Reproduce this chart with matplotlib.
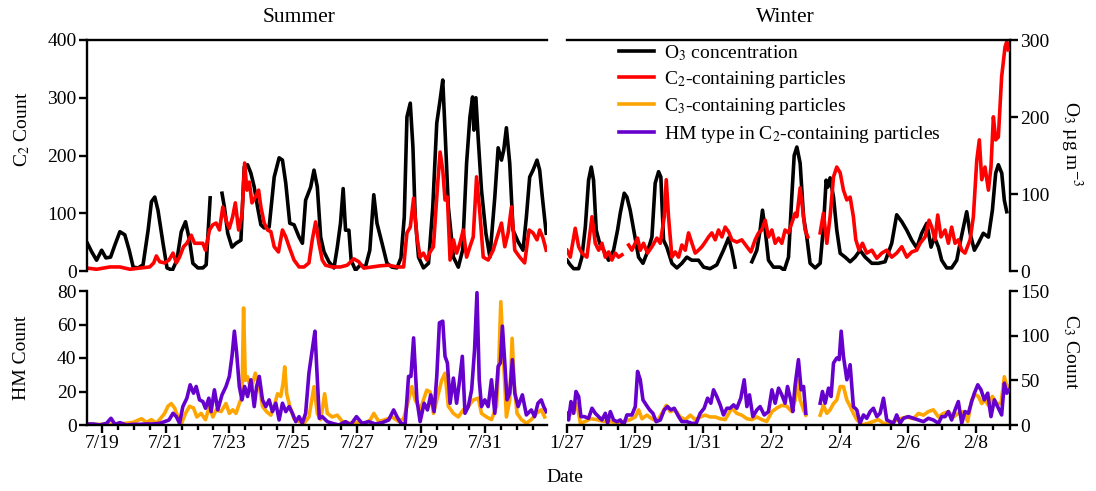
import numpy as np
import matplotlib
matplotlib.use('Agg')
import matplotlib.pyplot as plt
from matplotlib.ticker import MultipleLocator, FixedLocator
from matplotlib.lines import Line2D

nan = np.nan

# (hours since 7/18 00:00, value) -- summer
summer_o3 = [(13.3, 36), (16.5, 25), (20.2, 14), (24.0, 27), (27.2, 17), (30.7, 18), (34.0, 34), (37.7, 51), (41.4, 47), (44.7, 27),
             (47.7, 5), (51.4, 4), (55.1, 8), (58.9, 53), (61.4, 90), (63.9, 96), (66.3, 79), (70.1, 36), (73.1, 4), (77.1, 1),
             (80.5, 14), (83.8, 51), (87.0, 64), (90.0, 40), (92.5, 10), (96.3, 4), (100.0, 4), (102.5, 8), (105.5, 95), (110.0, nan),
             (114.4, 101), (116.2, 83), (118.7, 49), (121.9, 31), (124.9, 36), (128.6, 40), (131.1, 135), (133.6, 138), (136.1, 127), (138.6, 109),
             (141.1, 83), (143.6, 60), (146.1, 56), (149.8, 57), (153.6, 122), (157.3, 147), (159.8, 144), (162.3, 114), (165.3, 62), (168.5, 60),
             (172.3, 44), (174.8, 36), (177.2, 92), (181.0, 109), (183.5, 131), (186.0, 109), (188.5, 44), (191.0, 25), (194.7, 12), (198.5, 4),
             (201.0, 31), (203.4, 62), (205.4, 107), (207.2, 53), (209.7, 53), (211.4, 14), (214.7, 1), (218.4, 8), (222.1, 5), (225.4, 27),
             (228.4, 99), (230.8, 62), (234.6, 36), (238.3, 10), (242.1, 5), (245.8, 4), (248.8, 17), (251.3, 70), (253.3, 200), (255.8, 218),
             (257.8, 161), (259.5, 70), (262.0, 18), (265.7, 4), (269.5, 10), (272.7, 83), (275.7, 192), (278.2, 222), (280.2, 248), (281.9, 183),
             (284.4, 83), (288.2, 18), (291.9, 5), (295.1, 27), (298.1, 140), (300.6, 200), (302.6, 226), (303.6, 183), (305.1, 225), (306.9, 170),
             (309.3, 105), (312.6, 49), (315.6, 18), (319.3, 96), (321.8, 160), (324.3, 144), (326.0, 157), (328.0, 186), (330.5, 140), (333.0, 53),
             (336.8, 38), (340.5, 27), (343.0, 70), (345.5, 122), (348.0, 131), (351.0, 144), (353.0, 131), (355.0, 96), (357.9, 49)]

summer_c2 = [(13.3, 5), (20.2, 3), (30.2, 7), (37.7, 7), (45.2, 3), (52.6, 5), (60.1, 7), (63.1, 14), (65.1, 26), (67.6, 16),
             (71.3, 14), (74.6, 19), (77.6, 31), (80.1, 14), (82.5, 24), (85.5, 42), (88.0, 48), (91.3, 62), (93.8, 48), (97.0, 48),
             (100.0, 48), (102.0, 36), (105.0, 71), (107.5, 80), (110.0, 83), (112.5, 71), (115.0, 111), (117.4, 88), (119.9, 74), (122.4, 94),
             (124.4, 118), (126.9, 71), (129.4, 97), (131.4, 187), (133.1, 140), (134.9, 154), (136.9, 118), (139.4, 128), (141.9, 140), (143.6, 111),
             (146.1, 83), (148.6, 71), (151.1, 68), (153.6, 42), (156.8, 33), (159.8, 71), (162.3, 59), (164.8, 42), (168.5, 19), (172.3, 7),
             (176.0, 7), (179.7, 14), (182.2, 54), (184.7, 85), (187.2, 48), (189.7, 19), (192.2, 10), (197.2, 7), (203.4, 7), (208.4, 10),
             (213.4, 21), (217.1, 16), (220.9, 5), (227.1, 7), (233.3, 9), (239.6, 10), (245.8, 7), (250.8, 7), (253.3, 66), (255.8, 76),
             (258.3, 126), (260.8, 59), (263.2, 24), (265.7, 31), (268.2, 19), (270.7, 33), (273.2, 42), (276.2, 145), (278.2, 206), (280.2, 175),
             (281.9, 123), (283.7, 128), (285.7, 19), (288.2, 54), (290.6, 31), (293.1, 48), (295.6, 71), (298.1, 24), (300.6, 42), (303.1, 59),
             (305.6, 163), (308.1, 100), (310.6, 24), (314.3, 19), (318.1, 36), (321.1, 59), (324.3, 83), (326.8, 42), (329.3, 66), (331.8, 111),
             (334.3, 36), (338.0, 24), (341.7, 14), (345.0, 71), (348.0, 66), (351.0, 54), (353.0, 71), (355.5, 57), (357.9, 36)]

summer_hm = [(13.3, 0.6), (17.7, 0.6), (22.7, 0), (27.7, 1), (31.0, 4), (34.0, 0.4), (37.7, 1.4), (42.7, 0), (47.7, 0.4), (52.6, 0.4),
             (57.6, 0.6), (62.6, 0.6), (67.6, 1), (71.3, 2), (74.6, 3), (77.6, 7), (80.1, 5), (82.5, 1), (85.0, 11), (88.0, 16),
             (90.5, 24), (93.0, 19), (95.0, 23), (97.5, 15), (100.0, 14), (102.0, 10), (104.5, 16), (106.2, 8), (108.7, 21), (111.2, 9),
             (114.4, 18), (117.4, 23), (119.9, 29), (121.9, 41), (123.7, 56), (125.4, 43), (127.4, 23), (129.4, 15), (131.4, 23), (133.6, 17),
             (136.1, 27), (138.6, 11), (140.4, 23), (142.4, 29), (144.8, 15), (147.3, 11), (149.8, 15), (152.3, 8), (154.8, 13), (157.3, 3),
             (159.8, 13), (162.3, 8), (164.8, 11), (167.3, 7), (169.8, 2), (172.3, 5), (174.7, 1), (177.2, 7), (179.7, 31), (182.2, 45),
             (184.2, 56), (185.5, 35), (187.5, 4), (189.7, 5), (193.5, 2), (197.2, 1), (202.2, 0), (207.2, 2), (210.9, 0), (215.4, 5),
             (219.6, 1), (224.6, 2), (229.6, 0.6), (234.6, 1.4), (239.6, 3), (243.3, 9), (245.8, 5), (248.8, 1), (252.0, 0.6), (254.5, 29),
             (256.3, 29), (258.3, 52), (260.8, 15), (263.2, 2), (266.2, 13), (268.7, 9), (271.2, 18), (273.7, 8), (275.7, 29), (277.7, 61),
             (280.2, 62), (281.9, 41), (283.7, 37), (285.7, 13), (288.2, 28), (290.6, 13), (292.6, 25), (294.9, 41), (296.9, 7), (299.4, 11),
             (301.9, 21), (304.1, 45), (305.9, 79), (307.6, 27), (309.3, 11), (311.8, 15), (314.3, 11), (316.8, 27), (319.3, 7), (321.8, 35),
             (323.5, 37), (325.0, 59), (326.8, 37), (328.5, 15), (330.5, 19), (332.5, 39), (334.3, 19), (336.8, 11), (340.0, 18), (343.0, 6),
             (346.7, 9), (349.2, 5), (351.7, 13), (354.2, 15), (356.0, 11), (357.9, 8)]

summer_c3 = [(13.3, 0.7), (27.7, 0.7), (37.7, 1), (47.7, 3), (53.9, 7), (57.6, 3), (61.4, 6), (65.1, 2), (68.1, 7), (71.3, 13),
             (73.8, 21), (76.3, 24), (78.8, 19), (81.3, 9), (83.8, 1), (87.0, 13), (90.0, 21), (93.0, 19), (95.5, 9), (98.7, 13),
             (102.0, 6), (105.0, 21), (107.5, 9), (110.0, 17), (113.7, 15), (117.4, 24), (119.9, 13), (122.4, 17), (124.9, 13), (127.4, 24),
             (129.4, 32), (130.6, 131), (131.9, 50), (133.6, 54), (136.1, 39), (139.4, 58), (142.4, 43), (144.8, 21), (147.8, 15), (151.1, 11),
             (153.6, 21), (156.1, 35), (158.5, 32), (160.3, 47), (161.5, 65), (163.0, 35), (165.3, 21), (168.5, 7), (172.3, 4), (176.0, 2),
             (179.7, 9), (183.5, 43), (186.0, 13), (188.5, 6), (191.5, 35), (193.5, 13), (197.2, 9), (201.0, 11), (204.7, 4), (210.9, 2),
             (215.9, 3), (222.1, 2), (225.9, 6), (228.4, 13), (232.1, 4), (237.1, 6), (242.1, 9), (247.0, 4), (250.8, 7), (254.5, 28),
             (257.0, 43), (259.5, 28), (263.2, 17), (268.2, 39), (270.7, 37), (273.2, 13), (276.9, 35), (279.4, 50), (281.9, 58), (284.4, 21),
             (288.2, 13), (291.9, 9), (295.6, 17), (299.4, 21), (303.1, 28), (306.9, 30), (309.3, 13), (313.1, 9), (316.8, 6), (320.6, 21),
             (322.3, 69), (323.8, 138), (325.5, 84), (328.0, 9), (330.5, 28), (332.3, 97), (333.8, 47), (336.0, 13), (339.3, 6), (343.0, 2),
             (346.7, 6), (350.5, 13), (354.2, 17), (356.7, 9)]

# (hours since 1/27 00:00, value) -- winter
winter_o3 = [(0.0, 14), (2.3, 8), (4.7, 3), (8.2, 3), (10.5, 18), (12.9, 57), (15.2, 118), (17.1, 135), (18.7, 118), (20.6, 53),
             (23.0, 36), (25.8, 27), (29.3, 14), (32.8, 27), (35.6, 53), (37.5, 75), (40.3, 101), (42.2, 96), (44.5, 79), (47.4, 49),
             (50.4, 18), (53.5, 10), (56.3, 23), (59.8, 44), (62.1, 114), (64.5, 129), (66.1, 122), (68.0, 40), (70.3, 31), (73.9, 10),
             (77.4, 4), (80.9, 10), (84.4, 18), (87.9, 14), (92.6, 14), (96.2, 5), (100.8, 3), (105.5, 8), (110.2, 27), (113.8, 43),
             (116.1, 27), (118.4, 5), (124.0, nan), (130.2, 12), (133.7, 27), (136.0, 53), (137.7, 79), (139.6, 53), (141.9, 14), (145.4, 5),
             (150.1, 5), (153.0, 1), (156.0, 18), (158.3, 96), (160.0, 150), (161.9, 161), (164.2, 140), (166.6, 70), (168.9, 44), (171.2, 10),
             (174.8, 4), (178.3, 10), (180.6, 57), (182.5, 118), (183.7, 109), (185.3, 121), (187.7, 96), (190.0, 53), (192.4, 23), (195.9, 18),
             (199.4, 12), (202.9, 18), (206.4, 27), (210.0, 18), (214.7, 10), (219.3, 10), (224.0, 12), (228.7, 36), (232.2, 73), (235.8, 64),
             (239.3, 53), (242.8, 40), (246.3, 30), (249.8, 49), (253.4, 62), (256.4, 31), (258.8, 44), (261.6, 31), (263.9, 14), (267.4, 4),
             (270.9, 4), (274.5, 14), (276.8, 36), (279.2, 57), (281.5, 77), (283.9, 49), (286.9, 27), (289.7, 36), (293.2, 49), (296.8, 44),
             (299.6, 79), (301.9, 127), (303.8, 138), (306.2, 127), (308.0, 92), (309.7, 77)]

winter_c2 = [(0.0, 36), (2.3, 24), (5.8, 74), (8.2, 42), (10.5, 31), (14.0, 24), (17.6, 94), (19.9, 48), (22.3, 36), (24.6, 48),
             (27.0, 24), (29.3, 33), (31.6, 19), (34.0, 31), (36.3, 24), (38.7, 28), (41.0, nan), (43.4, 45), (45.7, 36), (49.7, 57),
             (51.6, 36), (53.9, 48), (56.7, 31), (59.8, 42), (63.3, 57), (65.7, 48), (68.5, 94), (69.9, 158), (71.5, 94), (73.9, 24),
             (76.2, 33), (78.6, 24), (80.9, 45), (83.3, 36), (85.6, 66), (88.0, 48), (90.3, 31), (92.6, 36), (95.0, 42), (97.3, 50),
             (99.7, 59), (102.0, 66), (104.4, 54), (106.7, 71), (109.1, 59), (111.4, 76), (113.8, 68), (116.1, 54), (119.6, 50), (123.1, 54),
             (126.7, 42), (129.5, 33), (132.5, 54), (134.9, 66), (137.2, 71), (139.6, 88), (141.9, 59), (144.3, 71), (146.6, 48), (149.0, 57),
             (151.3, 48), (153.6, 71), (156.0, 66), (158.3, 83), (160.7, 100), (161.9, 94), (164.2, 144), (165.8, 111), (167.7, 71), (169.6, 59),
             (174.0, nan), (178.3, 66), (180.6, 100), (183.0, 48), (185.3, 94), (187.7, 163), (190.0, 180), (192.4, 170), (194.7, 140), (197.1, 123),
             (199.4, 128), (201.7, 94), (203.4, 54), (205.7, 36), (208.1, 48), (211.1, 31), (214.7, 36), (218.2, 22), (221.7, 31), (225.2, 36),
             (228.7, 24), (232.2, 31), (235.8, 42), (239.3, 24), (242.8, 33), (246.3, 36), (248.7, 48), (252.2, 59), (255.0, 88), (256.9, 76),
             (259.2, 54), (261.1, 97), (263.4, 59), (266.3, 71), (268.6, 48), (270.9, 76), (273.3, 48), (275.6, 54), (278.0, 36), (280.3, 31),
             (283.9, 54), (286.2, 94), (288.6, 192), (290.4, 227), (292.1, 158), (294.4, 180), (296.8, 140), (298.6, 180), (300.3, 267), (301.9, 227),
             (303.8, 232), (306.1, 336), (308.5, 388), (309.7, 397), (310.8, 383)]

winter_hm = [(0.0, 7), (1.1, 3), (2.8, 14), (4.7, 7), (6.3, 20), (8.2, 17), (9.8, 5), (12.2, 5), (15.2, 4), (17.6, 10),
             (19.9, 7), (22.3, 5), (24.6, 3), (27.0, 7), (28.6, 1), (30.5, 8), (32.8, 3), (35.2, 2), (37.5, 3), (39.9, 0),
             (42.2, 6), (45.7, 6), (48.1, 11), (49.7, 32), (51.6, 27), (53.5, 15), (55.8, 12), (58.2, 9), (60.5, 7), (62.8, 2),
             (65.7, 3), (68.5, 9), (70.8, 11), (73.2, 9), (75.5, 10), (78.6, 5), (80.9, 2), (84.4, 2), (87.9, 1), (91.0, 1),
             (93.8, 7), (96.6, 10), (99.0, 16), (101.3, 13), (103.2, 21), (105.5, 17), (107.9, 12), (110.2, 6), (112.6, 10), (114.9, 10),
             (117.3, 12), (119.6, 10), (122.4, 16), (124.8, 27), (126.7, 11), (128.5, 18), (130.9, 5), (133.7, 9), (136.0, 11), (138.9, 6),
             (141.9, 8), (144.3, 21), (146.6, 13), (149.0, 22), (151.3, 18), (153.6, 13), (155.3, 23), (157.6, 15), (159.0, 8), (160.7, 24),
             (163.0, 39), (164.9, 21), (166.6, 23), (168.2, 7), (173.0, nan), (178.3, 13), (179.9, 20), (181.8, 13), (184.2, 22), (186.0, 17),
             (187.7, 37), (190.0, 40), (191.7, 39), (193.1, 56), (194.7, 41), (197.1, 27), (199.4, 36), (201.7, 11), (204.1, 9), (206.4, 1),
             (208.8, 6), (211.1, 4), (213.5, 8), (215.8, 10), (218.2, 5), (220.5, 7), (222.9, 16), (225.2, 3), (227.5, 2), (229.9, 1),
             (232.2, 6), (234.6, 1), (236.9, 4), (240.5, 5), (244.0, 4), (247.5, 3), (251.0, 2), (254.5, 4), (258.0, 3), (261.6, 1),
             (263.9, 5), (266.3, 5), (268.6, 8), (270.9, 3), (273.3, 9), (275.6, 14), (278.0, 1), (280.3, 8), (282.7, 7), (285.0, 14),
             (286.9, 19), (289.3, 24), (291.6, 21), (293.9, 15), (296.3, 19), (298.6, 5), (301.0, 15), (303.3, 11), (306.1, 6), (308.0, 25),
             (309.7, 19), (311.3, 21)]

winter_c3 = [(0.0, 9), (4.7, 15), (7.0, 24), (9.4, 2), (12.9, 4), (16.4, 7), (21.1, 6), (25.8, 4), (30.5, 4), (35.2, 2),
             (39.9, 4), (44.5, 6), (48.1, 9), (50.4, 17), (52.8, 7), (56.3, 11), (59.8, 7), (63.3, 4), (66.8, 13), (69.9, 22),
             (72.7, 15), (76.2, 17), (79.7, 9), (83.3, 6), (86.8, 11), (90.3, 6), (93.8, 9), (97.3, 11), (100.8, 9), (104.4, 9),
             (107.9, 7), (111.4, 6), (116.1, 19), (119.6, 13), (123.1, 11), (126.7, 7), (130.2, 6), (133.7, 9), (137.2, 6), (140.7, 4),
             (144.3, 15), (147.8, 19), (151.3, 22), (154.8, 21), (158.3, 15), (160.7, 28), (162.6, 50), (164.2, 28), (166.6, 17), (168.2, 11),
             (173.0, nan), (178.3, 11), (180.6, 22), (183.0, 13), (185.3, 17), (187.7, 24), (190.0, 28), (192.4, 43), (194.7, 43), (197.1, 28),
             (199.4, 21), (201.7, 13), (204.1, 6), (207.6, 0), (212.3, 2), (215.8, 4), (219.3, 6), (222.9, 2), (226.4, 1), (229.9, 4),
             (234.6, 7), (239.3, 9), (244.0, 7), (247.5, 13), (251.0, 11), (254.5, 15), (258.0, 17), (261.6, 9), (265.1, 13), (268.6, 15),
             (272.1, 9), (275.6, 13), (279.2, 15), (282.2, 4), (285.0, 28), (287.4, 34), (289.7, 32), (292.1, 24), (294.4, 28), (297.2, 21),
             (299.6, 32), (302.6, 24), (305.7, 24), (308.0, 54), (310.4, 39), (311.3, 43)]

summer_ticks = ['7/19', '7/21', '7/23', '7/25', '7/27', '7/29', '7/31']
winter_ticks = ['1/27', '1/29', '1/31', '2/2', '2/4', '2/6', '2/8']

C_O3, C_C2, C_C3, C_HM = 'black', '#ff0000', '#ffa500', '#6600cc'
LW = 2.6

plt.rcParams['font.family'] = 'Liberation Serif'
plt.rcParams['mathtext.fontset'] = 'stix'
plt.rcParams['font.size'] = 14

fig = plt.figure(figsize=(10.96, 4.91), dpi=100)
W, H = 1096.0, 491.0


def make_axes(x0, x1, y0, y1):
    ax = fig.add_axes([x0 / W, 1 - y1 / H, (x1 - x0) / W, (y1 - y0) / H])
    tw = ax.twinx()
    tw.set_zorder(ax.get_zorder() - 1)
    ax.patch.set_visible(False)
    for a in (ax, tw):
        for s in a.spines.values():
            s.set_visible(False)
            s.set_linewidth(1.7)
        a.tick_params(which='both', direction='out', width=1.7, length=5.5, labelsize=14, pad=2,
                      left=False, right=False, labelleft=False, labelright=False,
                      bottom=False, labelbottom=False, top=False)
    return ax, tw


def plot_series(a, data, color):
    arr = np.array(data, dtype=float)
    a.plot(arr[:, 0], arr[:, 1], color=color, lw=LW, solid_joinstyle='round')


def set_time_axis(ax, lim, first, labels):
    ax.set_xlim(*lim)
    ax.xaxis.set_major_locator(FixedLocator([first + 48 * i for i in range(len(labels))]))
    ax.set_xticklabels(labels)
    ax.xaxis.set_minor_locator(MultipleLocator(12))
    ax.tick_params(axis='x', which='both', bottom=True)
    ax.tick_params(axis='x', which='major', labelbottom=True, length=5.5)
    ax.tick_params(axis='x', which='minor', length=3.5)


S_LIM = (13.0, 358.5)
W_LIM = (0.0, 312.0)

# --- top summer ---
ts, ts2 = make_axes(87, 547, 40, 271)
plot_series(ts2, summer_o3, C_O3)
plot_series(ts, summer_c2, C_C2)
ts.set_ylim(0, 400)
ts2.set_ylim(0, 300)
ts.set_xlim(*S_LIM)
ts.spines['left'].set_visible(True)
ts.spines['top'].set_visible(True)
ts.set_yticks([0, 100, 200, 300, 400])
ts.tick_params(axis='y', left=True, labelleft=True)

# --- top winter ---
tw_, tw2 = make_axes(567, 1010, 40, 271)
plot_series(tw2, winter_o3, C_O3)
plot_series(tw_, winter_c2, C_C2)
tw_.set_ylim(0, 400)
tw2.set_ylim(0, 300)
tw_.set_xlim(*W_LIM)
tw_.spines['top'].set_visible(True)
tw2.spines['right'].set_visible(True)
tw2.set_yticks([0, 100, 200, 300])
tw2.tick_params(axis='y', right=True, labelright=True)

# --- bottom summer ---
bs, bs2 = make_axes(87, 547, 291, 425)
plot_series(bs2, summer_c3, C_C3)
plot_series(bs, summer_hm, C_HM)
bs.set_ylim(0, 80)
bs2.set_ylim(0, 150)
bs.spines['left'].set_visible(True)
bs.spines['bottom'].set_visible(True)
bs.set_yticks([0, 20, 40, 60, 80])
bs.tick_params(axis='y', left=True, labelleft=True)
set_time_axis(bs, S_LIM, 24, summer_ticks)

# --- bottom winter ---
bw, bw2 = make_axes(567, 1010, 291, 425)
plot_series(bw2, winter_c3, C_C3)
plot_series(bw, winter_hm, C_HM)
bw.set_ylim(0, 80)
bw2.set_ylim(0, 150)
bw.spines['bottom'].set_visible(True)
bw2.spines['right'].set_visible(True)
bw2.set_yticks([0, 50, 100, 150])
bw2.tick_params(axis='y', right=True, labelright=True)
set_time_axis(bw, W_LIM, 0, winter_ticks)

# legend
handles = [Line2D([], [], color=c, lw=LW) for c in (C_O3, C_C2, C_C3, C_HM)]
labels = ['O$_3$ concentration', 'C$_2$-containing particles',
          'C$_3$-containing particles', 'HM type in C$_2$-containing particles']
tw_.legend(handles, labels, loc='upper left', bbox_to_anchor=(0.10, 1.02), frameon=False,
           handlelength=1.8, handletextpad=0.5, labelspacing=0.32, borderaxespad=0, fontsize=14)

# labels
fig.text(299 / W, 1 - 18 / H, 'Summer', ha='center', va='center', fontsize=15.5)
fig.text(785 / W, 1 - 18 / H, 'Winter', ha='center', va='center', fontsize=15.5)
fig.text(565 / W, 1 - 478 / H, 'Date', ha='center', va='center', fontsize=14)
fig.text(22 / W, 1 - 129 / H, 'C$_2$ Count', ha='center', va='center', rotation=90, fontsize=14)
fig.text(22 / W, 1 - 358 / H, 'HM Count', ha='center', va='center', rotation=90, fontsize=14)
fig.text(1071 / W, 1 - 144 / H, 'O$_3$ µg m$^{-3}$', ha='center', va='center', rotation=270, fontsize=14)
fig.text(1071 / W, 1 - 352 / H, 'C$_3$ Count', ha='center', va='center', rotation=270, fontsize=14)

fig.savefig('out.png', dpi=100)
